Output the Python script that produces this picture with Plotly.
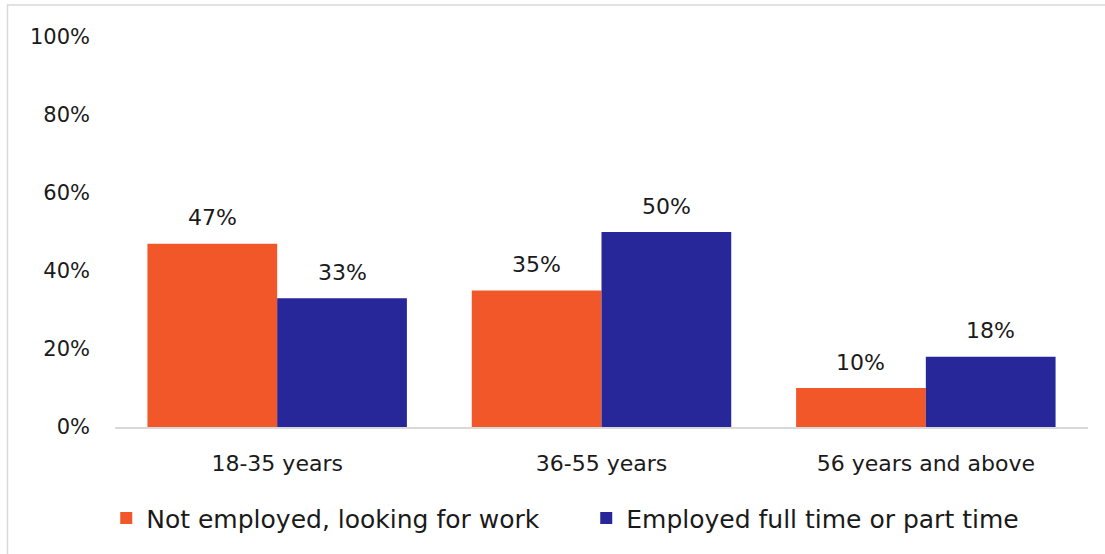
import plotly.graph_objects as go

categories = ["18-35 years", "36-55 years", "56 years and above"]
not_employed = [47, 35, 10]
employed = [33, 50, 18]
series_names = ["Not employed, looking for work", "Employed full time or part time"]
colors = ["#F2572A", "#27279A"]
tick_vals = [0, 20, 40, 60, 80, 100]
tick_text = [f"{v}%" for v in tick_vals]

FONT = "DejaVu Sans"
W, H = 1105, 554
ML, MR, MT, MB = 115, 17, 37, 127
BARGAP = 0.2
plot_w = W - ML - MR
plot_h = H - MT - MB

fig = go.Figure()
for name, vals, col in zip(series_names, [not_employed, employed], colors):
    fig.add_trace(go.Bar(
        x=categories, y=vals, name=name, marker=dict(color=col, line=dict(width=0)),
    ))

# data labels as annotations above each bar
band = plot_w / len(categories)
bar_w = band * (1 - BARGAP) / 2
annotations = []
for i, vals in enumerate([not_employed, employed]):
    offset = (i - 0.5) * bar_w
    for c, v in zip(categories, vals):
        annotations.append(dict(x=c, y=v, xref="x", yref="y", text=f"{v}%",
                                showarrow=False, xshift=offset, yshift=26,
                                yanchor="middle",
                                font=dict(size=22, family=FONT, color="#1a1a1a")))

fig.update_layout(
    width=W, height=H,
    margin=dict(l=ML, r=MR, t=MT, b=MB, autoexpand=False),
    plot_bgcolor="white", paper_bgcolor="white",
    barmode="group", bargap=BARGAP, bargroupgap=0,
    font=dict(family=FONT, size=22, color="#1a1a1a"),
    showlegend=True,
    legend=dict(orientation="h", x=-0.009, xanchor="left", y=-0.175, yanchor="top",
                font=dict(size=25, family=FONT, color="#1a1a1a"),
                entrywidth=435, entrywidthmode="pixels",
                bgcolor="rgba(0,0,0,0)", traceorder="normal"),
    xaxis=dict(showgrid=False, showline=True, linecolor="#D9D9D9", linewidth=2,
               ticks="", tickfont=dict(size=22), ticklabelstandoff=16),
    yaxis=dict(range=[0, 100], tickmode="array", tickvals=tick_vals, ticktext=tick_text,
               showgrid=False, zeroline=False, showline=False, ticks="",
               tickfont=dict(size=21), ticklabelstandoff=24),
    annotations=annotations,
    shapes=[dict(type="rect", xref="paper", yref="paper",
                 x0=(7.5 - ML) / plot_w, x1=(1112 - ML) / plot_w,
                 y0=(427 - 570) / plot_h, y1=(427 - 5) / plot_h,
                 line=dict(color="#D9D9D9", width=1.5), fillcolor="rgba(0,0,0,0)")],
)

fig.write_html("out.html", config={"displayModeBar": False},
               post_script="document.body.style.margin='0px';document.body.style.overflow='hidden';")
